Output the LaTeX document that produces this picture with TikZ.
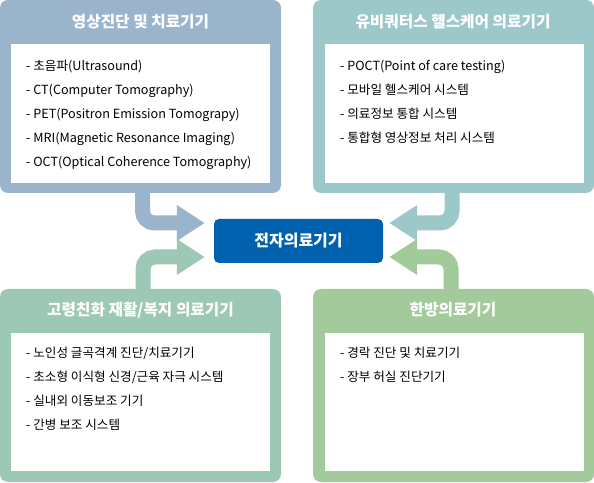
\documentclass[tikz,border=0pt]{standalone}
\usepackage{fontspec}
\setmainfont{Noto Sans CJK KR}
\usetikzlibrary{positioning,arrows.meta}

\definecolor{imgblue}{HTML}{9AB4CB}
\definecolor{ubiteal}{HTML}{9DC8CA}
\definecolor{agemint}{HTML}{9DC8B6}
\definecolor{herbgreen}{HTML}{A3CA9B}
\definecolor{coreblue}{HTML}{0062AE}

\begin{document}
\begin{tikzpicture}[x=1pt, y=1pt,
groupbox/.style={rectangle, rounded corners=8pt, minimum width=281pt, minimum height=193pt, inner sep=0pt},
listbox/.style={rectangle, fill=white, minimum width=259pt, minimum height=139pt, inner sep=0pt},
grouptitle/.style={text=white, inner sep=0pt, font=\bfseries\fontsize{15.7}{18}\selectfont},
items/.style={anchor=north west, align=left, inner sep=0pt, font=\fontsize{12.6}{24}\selectfont},
corebox/.style={rectangle, rounded corners=5pt, fill=coreblue, minimum width=169pt, minimum height=44pt, text=white, font=\bfseries\fontsize{16}{19}\selectfont},
flow/.style={line width=15pt, rounded corners=12pt, -{Triangle[width=34pt, length=28pt]}},
]
\useasboundingbox (0,0) rectangle (594,482);

% upper left group
\node[groupbox, fill=imgblue]  (imaging)      at (140.5,385.5) {};
\node[listbox]                 (imaginglist)  at (140.5,368.5) {};
\node[grouptitle]              (imagingtitle) at (140.5,460)   {영상진단 및 치료기기};
\node[items]                   (imagingitems) at (26,422.5)    {- 초음파(Ultrasound)\\- CT(Computer Tomography)\\- PET(Positron Emission Tomograpy)\\- MRI(Magnetic Resonance Imaging)\\- OCT(Optical Coherence Tomography)};

% upper right group
\node[groupbox, fill=ubiteal]  (ubiq)         at (453.5,385.5) {};
\node[listbox]                 (ubiqlist)     at (454.5,368.5) {};
\node[grouptitle]              (ubiqtitle)    at (453,460)     {유비쿼터스 헬스케어 의료기기};
\node[items]                   (ubiqitems)    at (340,422.5)   {- POCT(Point of care testing)\\- 모바일 헬스케어 시스템\\- 의료정보 통합 시스템\\- 통합형 영상정보 처리 시스템};

% lower left group
\node[groupbox, fill=agemint]  (aging)        at (140.5,96.5)  {};
\node[listbox, minimum height=138pt] (aginglist) at (140.5,80) {};
\node[grouptitle]              (agingtitle)   at (140.5,172)   {고령친화 재활/복지 의료기기};
\node[items]                   (agingitems)   at (26,135.5)    {- 노인성 글곡격계 진단/치료기기\\- 초소형 이식형 신경/근육 자극 시스템\\- 실내외 이동보조 기기\\- 간병 보조 시스템};

% lower right group
\node[groupbox, fill=herbgreen] (herbal)      at (453.5,96.5)  {};
\node[listbox, minimum height=138pt] (herballist) at (454.5,80) {};
\node[grouptitle]              (herbaltitle)  at (453,172)     {한방의료기기};
\node[items]                   (herbalitems)  at (340,135.5)   {- 경락 진단 및 치료기기\\- 장부 허실 진단기기};

% centre
\node[corebox] (core) at (298.5,241) {전자의료기기};

\draw[flow, imgblue]   ([xshift=2pt]imaging.south)   |- ([shift={(-9pt,18pt)}]core.west);
\draw[flow, ubiteal]   ([xshift=-1.5pt]ubiq.south)   |- ([shift={(6pt,18pt)}]core.east);
\draw[flow, agemint]   ([xshift=2.5pt]aging.north)   |- ([shift={(-9pt,-16pt)}]core.west);
\draw[flow, herbgreen] ([xshift=-2.5pt]herbal.north) |- ([shift={(6pt,-16pt)}]core.east);

\end{tikzpicture}
\end{document}
